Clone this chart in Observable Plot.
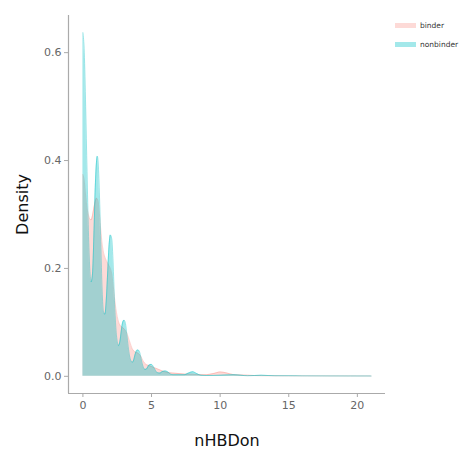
<!DOCTYPE html>
<html>
<head>
<meta charset="utf-8">
<script src="https://cdn.jsdelivr.net/npm/d3@7"></script>
<script src="https://cdn.jsdelivr.net/npm/@observablehq/plot@0.6"></script>
<style>
  html, body { margin: 0; padding: 0; background: #fff; }
  #wrap { position: relative; width: 460px; height: 454px; font-family: "DejaVu Sans", sans-serif; overflow: hidden; }
  #legend { position: absolute; left: 395px; top: 20px; font-size: 7.5px; color: #333; white-space: nowrap; }
  .item { display: flex; align-items: center; height: 10px; margin-bottom: 9px; }
  .key { display: inline-block; width: 21px; height: 5px; margin-right: 4px; flex: none; }
</style>
</head>
<body>
<div id="wrap"><div id="legend"></div></div>
<script>
const seriesNames = ["binder", "nonbinder"];
const seriesColors = ["#F8766D", "#00BFC4"];
const seriesOpacity = [0.27, 0.36];
const xTicks = [0, 5, 10, 15, 20];
const yTicks = [0, 0.2, 0.4, 0.6];

const binderX = [0, 0.1, 0.2, 0.3, 0.4, 0.5, 0.6, 0.7, 0.8, 0.9, 1.0, 1.1, 1.2, 1.3, 1.4, 1.5, 1.6, 1.7, 1.8, 1.9, 2.0, 2.1, 2.2, 2.3, 2.4, 2.5, 2.6, 2.7, 2.8, 2.9, 3.0, 3.2, 3.4, 3.6, 3.8, 4.0, 4.2, 4.4, 4.6, 4.8, 5.0, 5.2, 5.5, 6.0, 6.5, 7.0, 7.5, 8.0, 8.5, 9.0, 9.5, 10.0, 10.5, 11.0, 12.0, 13.0, 15.0, 18.0, 21.0];
const binderY = [0.374, 0.362, 0.335, 0.312, 0.300, 0.292, 0.290, 0.298, 0.312, 0.324, 0.330, 0.325, 0.302, 0.272, 0.246, 0.230, 0.221, 0.215, 0.210, 0.205, 0.200, 0.190, 0.170, 0.146, 0.126, 0.111, 0.101, 0.095, 0.092, 0.090, 0.088, 0.080, 0.065, 0.051, 0.045, 0.043, 0.038, 0.028, 0.022, 0.020, 0.018, 0.016, 0.013, 0.008, 0.006, 0.005, 0.004, 0.004, 0.003, 0.003, 0.005, 0.008, 0.006, 0.003, 0.002, 0.001, 0.0008, 0.0006, 0.0005];

const nonbinderX = [0, 0.1, 0.2, 0.3, 0.4, 0.5, 0.6, 0.7, 0.8, 0.9, 1.0, 1.05, 1.1, 1.2, 1.3, 1.4, 1.5, 1.6, 1.7, 1.8, 1.9, 2.0, 2.1, 2.2, 2.3, 2.4, 2.5, 2.6, 2.7, 2.8, 2.9, 3.0, 3.1, 3.2, 3.3, 3.4, 3.5, 3.6, 3.7, 3.8, 3.9, 4.0, 4.1, 4.2, 4.3, 4.4, 4.5, 4.6, 4.7, 4.8, 4.9, 5.0, 5.2, 5.4, 5.6, 5.8, 6.0, 6.2, 6.4, 6.6, 7.0, 7.4, 7.7, 8.0, 8.3, 8.6, 9.0, 10.0, 11.0, 11.5, 12.0, 13.0, 14.0, 15.0, 16.0, 18.0, 21.0];
const nonbinderY = [0.637, 0.600, 0.500, 0.380, 0.270, 0.200, 0.175, 0.190, 0.260, 0.350, 0.400, 0.408, 0.400, 0.340, 0.250, 0.160, 0.120, 0.115, 0.140, 0.190, 0.240, 0.262, 0.255, 0.210, 0.140, 0.090, 0.065, 0.057, 0.065, 0.085, 0.100, 0.104, 0.098, 0.078, 0.055, 0.038, 0.029, 0.026, 0.030, 0.040, 0.047, 0.049, 0.047, 0.038, 0.026, 0.017, 0.013, 0.013, 0.016, 0.020, 0.022, 0.022, 0.015, 0.007, 0.006, 0.009, 0.010, 0.008, 0.004, 0.003, 0.003, 0.003, 0.006, 0.0085, 0.005, 0.002, 0.0015, 0.002, 0.003, 0.002, 0.001, 0.002, 0.001, 0.001, 0.0008, 0.0006, 0.0005];

const rows = [
  ...binderX.map((x, i) => ({x, y: binderY[i], group: "binder"})),
  ...nonbinderX.map((x, i) => ({x, y: nonbinderY[i], group: "nonbinder"}))
];
const binderRows = rows.filter(d => d.group === "binder");
const nonbinderRows = rows.filter(d => d.group === "nonbinder");

const xMin = 0, xMax = 21, yMax = 0.637;
const xPad = (xMax - xMin) * 0.05, yPad = yMax * 0.05;
const xDomain = [xMin - xPad, xMax + xPad];
const yDomain = [-yPad, yMax + yPad];

const chart = Plot.plot({
  width: 460,
  height: 454,
  marginLeft: 68,
  marginRight: 75,
  marginTop: 15,
  marginBottom: 61,
  style: {fontFamily: "DejaVu Sans, sans-serif", background: "#fff"},
  x: {domain: xDomain},
  y: {domain: yDomain},
  marks: [
    Plot.areaY(binderRows, {x: "x", y: "y", fill: seriesColors[0], fillOpacity: seriesOpacity[0], curve: "monotone-x"}),
    Plot.lineY(binderRows, {x: "x", y: "y", stroke: seriesColors[0], strokeOpacity: 0.3, strokeWidth: 1, curve: "monotone-x"}),
    Plot.areaY(nonbinderRows, {x: "x", y: "y", fill: seriesColors[1], fillOpacity: seriesOpacity[1], curve: "monotone-x"}),
    Plot.lineY(nonbinderRows, {x: "x", y: "y", stroke: seriesColors[1], strokeOpacity: 0.4, strokeWidth: 1, curve: "monotone-x"}),
    Plot.ruleX([xDomain[0]], {stroke: "#aaa", strokeWidth: 1.2}),
    Plot.ruleY([yDomain[0]], {stroke: "#aaa", strokeWidth: 1.2}),
    Plot.axisX({ticks: xTicks, tickSize: 4, tickPadding: 4, stroke: "#aaa", color: "#666", fontSize: 11,
      label: "nHBDon", labelAnchor: "center", labelArrow: "none", labelOffset: 52}),
    Plot.axisY({ticks: yTicks, tickSize: 4, tickPadding: 3, stroke: "#aaa", color: "#666", fontSize: 11,
      tickFormat: d3.format(".1f"),
      label: "Density", labelAnchor: "center", labelArrow: "none", labelOffset: 52})
  ]
});
chart.querySelectorAll("g[aria-label='x-axis label'] text, g[aria-label='y-axis label'] text").forEach(t => {
  t.setAttribute("font-size", "16");
  t.setAttribute("fill", "#111");
});
document.getElementById("wrap").prepend(chart);

const legend = document.getElementById("legend");
seriesNames.forEach((name, i) => {
  const item = document.createElement("div");
  item.className = "item";
  const key = document.createElement("span");
  key.className = "key";
  key.style.background = seriesColors[i];
  key.style.opacity = seriesOpacity[i];
  const lab = document.createElement("span");
  lab.textContent = name;
  item.append(key, lab);
  legend.append(item);
});
</script>
</body>
</html>
